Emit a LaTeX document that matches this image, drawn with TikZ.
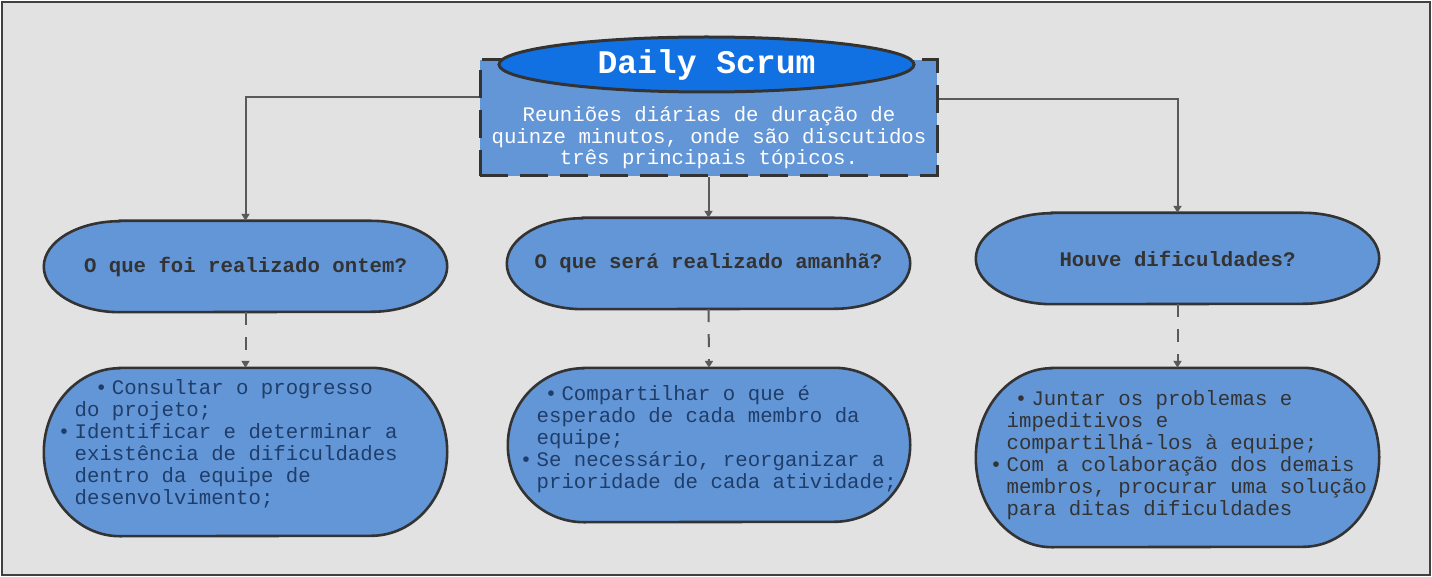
\documentclass[tikz,border=0pt]{standalone}
\usepackage{fontspec}
\setmainfont{Liberation Mono}
\usetikzlibrary{arrows.meta,shapes.geometric,calc}

\definecolor{paper}{HTML}{E2E2E2}
\definecolor{frame}{HTML}{404040}
\definecolor{edge}{HTML}{333333}
\definecolor{boxfill}{HTML}{6396D7}
\definecolor{titlefill}{HTML}{1271E2}
\definecolor{wire}{HTML}{5A5A5A}
\definecolor{navytext}{HTML}{1F3D69}
\definecolor{greytext}{HTML}{333333}

\pgfdeclarelayer{canvas}
\pgfdeclarelayer{shapes}
\pgfsetlayers{canvas,shapes,main}

% bullet hanging to the left of the line start
\newcommand\blt{\llap{\textbullet\hspace{4.3pt}}}

% stadium outline with elliptical ends around a node
\newcommand\stadium[2]{%
  \path[stadiumline]
    ([xshift=76pt]#1.north west) -- ([xshift=-76pt]#1.north east)
    arc[start angle=90,end angle=-90,x radius=76pt,y radius=#2pt]
    -- ([xshift=76pt]#1.south west)
    arc[start angle=270,end angle=90,x radius=76pt,y radius=#2pt]
    -- cycle;}

\begin{document}
\begin{tikzpicture}[x=1pt,y=-1pt,
  stadiumline/.style={fill=boxfill,draw=edge,line width=2.6pt},
  holder/.style={rectangle,inner sep=0pt,draw=none},
  descbox/.style={rectangle,inner sep=0pt,fill=boxfill,draw=edge,line width=3pt,
    dash pattern=on 28pt off 12pt},
  desctext/.style={inner sep=0pt,align=center,text=white,
    font=\fontsize{20.7}{21.5}\selectfont},
  titlebox/.style={ellipse,inner sep=0pt,fill=titlefill,draw=edge,line width=3pt,
    text=white,font=\fontsize{33}{36}\selectfont\bfseries},
  question/.style={holder,text=greytext,font=\fontsize{20.7}{22}\selectfont\bfseries},
  listtext/.style={inner sep=0pt,anchor=west,align=left,
    font=\fontsize{20.7}{22}\selectfont},
  conn/.style={draw=wire,line width=2pt,-{Triangle[length=7pt,width=8pt]}},
  dconn/.style={conn,dash pattern=on 13pt off 12pt}]

\useasboundingbox (0,0) rectangle (1432,577);

\begin{pgfonlayer}{canvas}
  \path[fill=paper,draw=frame,line width=2pt] (2,2) rectangle (1430,575);
\end{pgfonlayer}

% header
\node[descbox,minimum width=457pt,minimum height=116pt] (desc) at (708.5,118) {};
\node[desctext] (desctxt) at (709,138)
  {Reuniões diárias de duração de\\quinze minutos, onde são discutidos\\três principais tópicos.};
\node[titlebox,minimum width=415pt,minimum height=55pt] (ds) at (706.5,64.5) {\raisebox{-1pt}{Daily Scrum}};

% questions
\node[question,minimum width=403pt,minimum height=91pt] (q1) at (245.5,266.5) {\raisebox{-1pt}{O que foi realizado ontem?}};
\node[question,minimum width=403pt,minimum height=91pt] (q2) at (708.5,263.5) {\raisebox{-1pt}{O que será realizado amanhã?}};
\node[question,minimum width=403pt,minimum height=91pt] (q3) at (1177.5,258.5) {\raisebox{-1pt}{Houve dificuldades?}};

% detail boxes
\node[holder,minimum width=403pt,minimum height=168pt] (d1) at (245.5,452) {};
\node[holder,minimum width=402pt,minimum height=154pt] (d2) at (709,445) {};
\node[holder,minimum width=403pt,minimum height=179pt] (d3) at (1177.5,457.5) {};

\begin{pgfonlayer}{shapes}
  \stadium{q1}{45.5}
  \stadium{q2}{45.5}
  \stadium{q3}{45.5}
  \stadium{d1}{84}
  \stadium{d2}{77}
  \stadium{d3}{89.5}
\end{pgfonlayer}

\node[listtext,text=navytext] (t1) at (74.5,444)
  {\hspace*{1.8em}\blt Consultar o progresso\\
   do projeto;\\
   \blt Identificar e determinar a\\
   existência de dificuldades\\
   dentro da equipe de\\
   desenvolvimento;};
\node[listtext,text=navytext] (t2) at (536.5,439.5)
  {\hspace*{1.2em}\blt Compartilhar o que é\\
   esperado de cada membro da\\
   equipe;\\
   \blt Se necessário, reorganizar a\\
   prioridade de cada atividade;};
\node[listtext,text=greytext] (t3) at (1006.5,455.5)
  {\hspace*{1.2em}\blt Juntar os problemas e\\
   impeditivos e\\
   compartilhá-los à equipe;\\
   \blt Com a colaboração dos demais\\
   membros, procurar uma solução\\
   para ditas dificuldades};

% connectors
\draw[conn] ($(desc.west)+(0,-21)$) -| (q1.north);
\draw[conn] (desc.south) -- (q2.north);
\draw[conn] ($(desc.east)+(0,-19)$) -| (q3.north);
\draw[dconn] (q1.south) -- (d1.north);
\draw[dconn] (q2.south) -- (d2.north);
\draw[dconn] (q3.south) -- (d3.north);

\end{tikzpicture}
\end{document}
